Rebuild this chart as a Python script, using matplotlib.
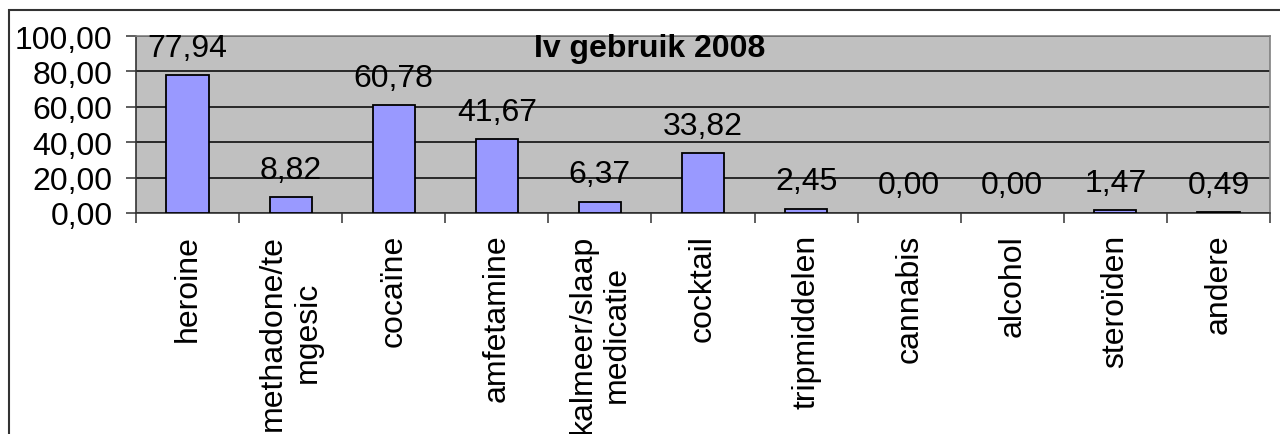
import matplotlib
matplotlib.use("Agg")
import matplotlib.pyplot as plt
from matplotlib.patches import Rectangle
from matplotlib.ticker import FuncFormatter, FixedLocator

plt.rcParams['font.family'] = ['Liberation Sans', 'DejaVu Sans']

# data
categories = ["heroine", "methadone/te\nmgesic", "cocaïne", "amfetamine",
              "kalmeer/slaap\nmedicatie", "cocktail", "tripmiddelen",
              "cannabis", "alcohol", "steroïden", "andere"]
values = [77.94, 8.82, 60.78, 41.67, 6.37, 33.82, 2.45, 0.00, 0.00, 1.47, 0.49]
title = "Iv gebruik 2008"


def nl_fmt(v, pos=None):
    return f"{v:.2f}".replace(".", ",")


fig = plt.figure(figsize=(12.8, 4.35), dpi=100)
ax = fig.add_axes([136 / 1280, 1 - 214 / 435, 1134 / 1280, 177 / 435])

# outer frame of the chart object
fig.patches.append(Rectangle((9 / 1280, -0.1), 1.2, 1 - 11 / 435 + 0.1,
                             transform=fig.transFigure, fill=False,
                             edgecolor="#333333", linewidth=1.5, zorder=0))

ax.set_facecolor("#C0C0C0")
x = list(range(len(categories)))
bars = ax.bar(x, values, width=0.41, color="#9999FF",
              edgecolor="black", linewidth=1.3, zorder=3)
for b in bars:
    if b.get_height() == 0:
        b.set_linewidth(0)

for xi, v in zip(x, values):
    ax.annotate(nl_fmt(v), (xi, v), xytext=(0, 9), textcoords="offset points",
                ha="center", va="bottom", fontsize=23, zorder=4)

ax.set_xlim(-0.5, len(categories) - 0.5)
ax.set_ylim(0, 100)
ax.set_yticks([0, 20, 40, 60, 80, 100])
ax.yaxis.set_major_formatter(FuncFormatter(nl_fmt))
ax.yaxis.grid(True, color="black", linewidth=1.1, zorder=1)
ax.set_axisbelow(True)

ax.set_xticks(x)
ax.set_xticklabels(categories, rotation=90, ha="center", va="top",
                   multialignment="center", fontsize=23)
ax.xaxis.set_minor_locator(FixedLocator([i - 0.5 for i in range(len(categories) + 1)]))
ax.tick_params(axis="x", which="major", length=0, pad=15)
ax.tick_params(axis="x", which="minor", length=7, width=1.1, color="#333333")
ax.tick_params(axis="y", length=7, width=1.1, color="#333333", labelsize=23, pad=10)

for side in ["top", "right"]:
    ax.spines[side].set_color("#808080")
    ax.spines[side].set_linewidth(1.2)
for side in ["left", "bottom"]:
    ax.spines[side].set_color("#333333")
    ax.spines[side].set_linewidth(1.2)

ax.text(0.453, 0.932, title, transform=ax.transAxes, ha="center", va="center",
        fontsize=23, fontweight="bold", zorder=5)

fig.savefig("out.png", dpi=100)
